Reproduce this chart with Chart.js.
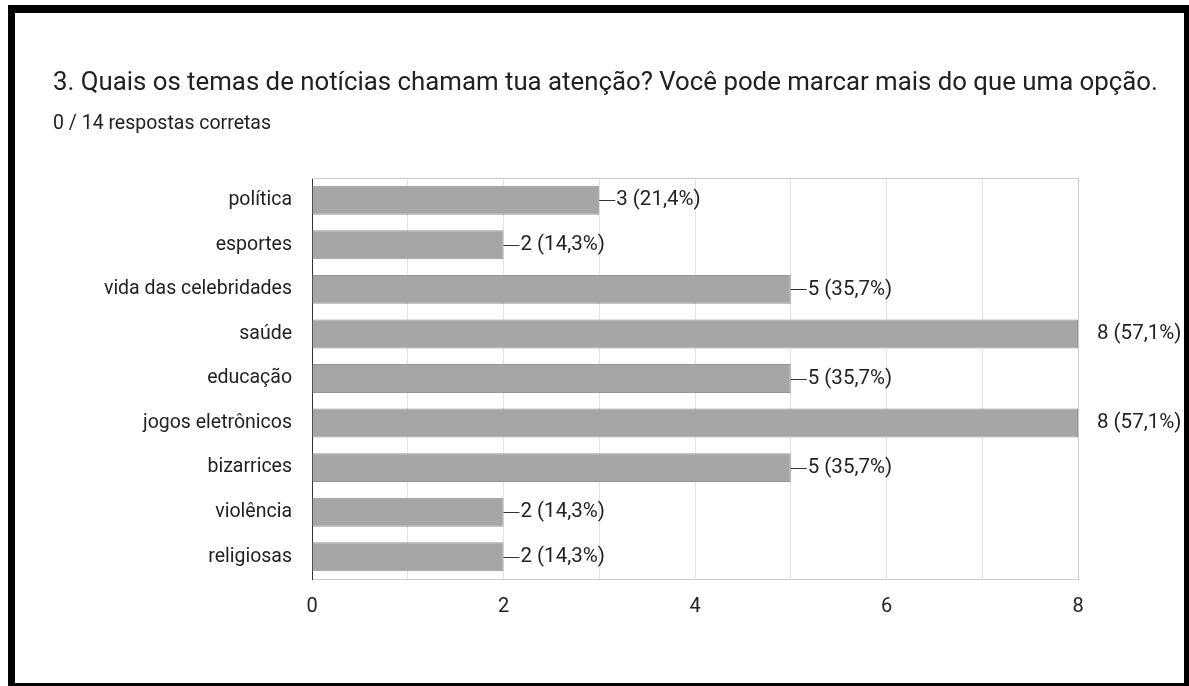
<!DOCTYPE html>
<html>
<head>
<meta charset="utf-8">
<script src="https://cdn.jsdelivr.net/npm/chart.js@4"></script>
<style>
  html, body { margin: 0; padding: 0; background: #fff; overflow: hidden; width: 1189px; height: 686px; }
  #frame { position: absolute; left: 8px; top: 5px; width: 1184px; height: 686px; box-sizing: border-box;
           border-left: 7px solid #000; border-top: 8px solid #000; border-right: 8px solid #000; border-bottom: 8px solid #000; }
  #title { position: absolute; left: 53px; top: 66px; font-family: Roboto, sans-serif; font-size: 25.8px; color: #202124; white-space: nowrap; }
  #subtitle { position: absolute; left: 53px; top: 111px; font-family: Roboto, sans-serif; font-size: 19.5px; color: #202124; white-space: nowrap; }
  #chart { position: absolute; left: 15px; top: 13px; }
</style>
</head>
<body>
<div id="frame"></div>
<canvas id="chart" width="1169" height="670"></canvas>
<div id="title">3. Quais os temas de notícias chamam tua atenção? Você pode marcar mais do que uma opção.</div>
<div id="subtitle">0 / 14 respostas corretas</div>
<script>
const categories = ['política', 'esportes', 'vida das celebridades', 'saúde', 'educação', 'jogos eletrônicos', 'bizarrices', 'violência', 'religiosas'];
const counts = [3, 2, 5, 8, 5, 8, 5, 2, 2];
const percents = ['21,4%', '14,3%', '35,7%', '57,1%', '35,7%', '57,1%', '35,7%', '14,3%', '14,3%'];
const xTickLabels = ['0', '', '2', '', '4', '', '6', '', '8'];

const FONT = 'Roboto, sans-serif';

const frameLines = {
  id: 'frameLines',
  afterDraw(chart) {
    const { ctx, chartArea: a } = chart;
    ctx.save();
    ctx.strokeStyle = '#cccccc';
    ctx.lineWidth = 1;
    ctx.beginPath();
    ctx.moveTo(a.left, a.top + 0.5);
    ctx.lineTo(a.right, a.top + 0.5);
    ctx.stroke();
    ctx.restore();
  }
};

const valueLabels = {
  id: 'valueLabels',
  afterDraw(chart) {
    const { ctx, chartArea: a } = chart;
    const meta = chart.getDatasetMeta(0);
    ctx.save();
    ctx.font = '20.5px ' + FONT;
    ctx.fillStyle = '#222222';
    ctx.strokeStyle = '#333333';
    ctx.lineWidth = 1;
    ctx.textBaseline = 'middle';
    ctx.textAlign = 'left';
    meta.data.forEach((bar, i) => {
      const x = bar.x, y = bar.y;
      const text = counts[i] + ' (' + percents[i] + ')';
      if (x >= a.right - 1) {
        ctx.fillText(text, x + 19, y);
      } else {
        ctx.beginPath();
        ctx.moveTo(x, Math.round(y) + 0.5);
        ctx.lineTo(x + 16, Math.round(y) + 0.5);
        ctx.stroke();
        ctx.fillText(text, x + 17, y);
      }
    });
    ctx.restore();
  }
};

new Chart(document.getElementById('chart'), {
  type: 'bar',
  data: {
    labels: categories,
    datasets: [{
      data: counts,
      backgroundColor: '#a6a6a6',
      borderColor: '#959595',
      borderWidth: 1,
      barPercentage: 0.65,
      categoryPercentage: 1
    }]
  },
  options: {
    indexAxis: 'y',
    responsive: false,
    animation: false,
    events: [],
    layout: { padding: { left: 0, right: 106, top: 165, bottom: 44 } },
    plugins: { legend: { display: false }, tooltip: { enabled: false } },
    scales: {
      x: {
        type: 'linear',
        min: 0,
        max: 8,
        ticks: {
          stepSize: 1,
          padding: 16,
          font: { family: FONT, size: 20 },
          color: '#222222',
          autoSkip: false,
          maxRotation: 0,
          callback: (v) => xTickLabels[v] ?? ''
        },
        grid: {
          drawTicks: false,
          color: (c) => (c.tick && c.tick.value === 8) ? '#cccccc' : '#e3e3e3'
        },
        border: { display: true, color: '#cccccc' },
        afterFit: (s) => { s.height = 60; }
      },
      y: {
        ticks: {
          padding: 20,
          font: { family: FONT, size: 19.5 },
          color: '#222222',
          autoSkip: false
        },
        grid: { display: false, drawTicks: false },
        border: { display: true, color: '#333333', width: 1 },
        afterFit: (s) => { s.width = 297; }
      }
    }
  },
  plugins: [frameLines, valueLabels]
});
</script>
</body>
</html>
